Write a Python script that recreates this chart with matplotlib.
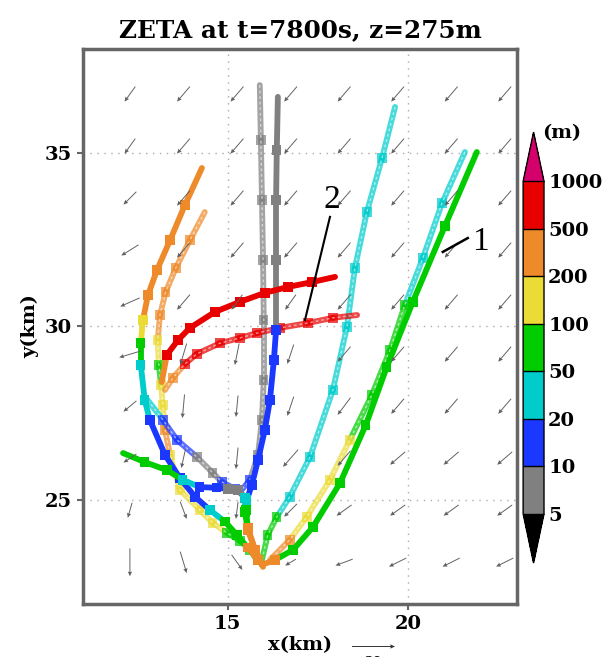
import numpy as np
import matplotlib
matplotlib.use("Agg")
import matplotlib.pyplot as plt
from matplotlib.collections import LineCollection
from matplotlib.colors import ListedColormap, BoundaryNorm

# height classes (m) and colours
LEVELS = [5, 10, 20, 50, 100, 200, 500, 1000]
LEVEL_COLORS = ["#808080", "#1a38ff", "#00cccc", "#00cc00", "#ebdb36", "#ee8a2a", "#e80000"]
UNDER_COLOR = "#000000"
OVER_COLOR = "#d4006c"

# wind grid (km) and components (m/s), rows from south to north
GX = [12.3, 13.78, 15.26, 16.74, 18.22, 19.7, 21.18, 22.66]
GY = [23.2, 24.7, 26.2, 27.7, 29.2, 30.7, 32.2, 33.7, 35.2, 36.7]
U = [
    [0, 3, 5, -5, -8, -8, -8, -8],
    [-2, 3, -1, -6, -7, -7, -7, -7],
    [-6, -2, -1, -7, -6, -7, -7, -7],
    [-6, -1, -1, -3, -6, -6, -6, -6],
    [-10, -3, -2, -3, -6, -6, -6, -6],
    [-9, -6, -5, -5, -6, -6, -6, -6],
    [-8, -6, -6, -6, -6, -6, -6, -6],
    [-6, -6, -6, -6, -6, -6, -6, -6],
    [-5, -6, -6, -6, -6, -6, -6, -6],
    [-5, -6, -6, -6, -6, -6, -6, -6],
]
V = [
    [-13, -10, -7, -3, -3, -4, -4, -4],
    [-7, -8, -8, -6, -5, -5, -5, -5],
    [-4, -9, -10, -8, -7, -6, -6, -6],
    [-5, -11, -10, -9, -8, -7, -7, -7],
    [-3, -10, -10, -9, -7, -7, -7, -7],
    [-4, -7, -7, -7, -7, -7, -7, -7],
    [-5, -7, -7, -7, -7, -7, -7, -7],
    [-6, -7, -7, -7, -7, -7, -7, -7],
    [-7, -7, -7, -7, -7, -7, -7, -7],
    [-7, -7, -7, -7, -7, -7, -7, -7],
]
REF_SPEED = 20

# trajectories: x (km), y (km), parcel height z (m)
T1_X = [21.89, 21.01, 20.12, 19.40, 18.82, 18.11, 17.36, 16.81, 16.31, 15.95]
T1_Y = [35.03, 32.90, 30.71, 28.83, 27.16, 25.49, 24.22, 23.56, 23.27, 23.13]
T1_Z = [60, 60, 60, 60, 60, 60, 70, 80, 250, 300]

T1B_X = [21.56, 20.93, 20.40, 19.90, 19.49, 18.99, 18.38, 17.83, 17.19, 16.72, 16.17]
T1B_Y = [35.03, 33.56, 31.98, 30.62, 29.32, 28.03, 26.73, 25.58, 24.51, 23.85, 23.27]
T1B_Z = [30, 30, 30, 60, 60, 60, 150, 150, 150, 300, 300]

TC_X = [19.63, 19.27, 18.85, 18.52, 18.30, 17.91, 17.28, 16.72, 16.36, 16.11, 15.95]
TC_Y = [36.33, 34.86, 33.30, 31.69, 29.99, 28.17, 26.24, 25.09, 24.51, 23.99, 23.27]
TC_Z = [30, 30, 30, 30, 30, 30, 30, 30, 70, 70, 250]

TG_X = [16.39, 16.36, 16.34, 16.34, 16.34, 16.28, 16.17, 16.03, 15.84, 15.67, 15.53, 15.48, 15.56, 15.76, 15.98]
TG_Y = [36.62, 35.09, 33.65, 31.92, 29.90, 29.03, 27.88, 27.02, 26.15, 25.43, 25.00, 24.65, 24.13, 23.56, 23.07]
TG_Z = [7, 7, 7, 7, 15, 15, 15, 15, 15, 15, 30, 70, 300, 300, 300]

TGB_X = [15.89, 15.92, 15.95, 15.98, 16.00, 16.00, 15.95, 15.84, 15.62, 15.34]
TGB_Y = [36.96, 35.38, 33.65, 31.92, 30.19, 28.46, 27.31, 26.30, 25.58, 25.23]
TGB_Z = [7, 7, 7, 7, 7, 7, 7, 7, 15, 15]

TA_X = [14.29, 13.82, 13.41, 13.05, 12.80, 12.66, 12.60, 12.60, 12.71, 12.85, 13.27, 13.68, 14.10, 14.51, 14.93, 15.26, 15.56, 15.84, 15.95]
TA_Y = [34.57, 33.50, 32.49, 31.63, 30.91, 30.19, 29.52, 28.89, 27.88, 27.31, 26.30, 25.63, 25.09, 24.71, 24.37, 23.99, 23.62, 23.27, 23.13]
TA_Z = [300, 300, 300, 300, 300, 150, 70, 30, 30, 15, 15, 15, 15, 30, 70, 70, 300, 300, 300]

TB_X = [14.37, 13.96, 13.57, 13.29, 13.13, 13.07, 13.10, 13.16, 13.21, 13.27, 13.41, 13.68, 14.23, 14.59, 14.98, 15.34, 15.62, 15.84]
TB_Y = [33.30, 32.49, 31.69, 31.00, 30.33, 29.61, 28.89, 28.31, 27.74, 27.02, 26.30, 25.29, 24.71, 24.34, 24.05, 23.82, 23.56, 23.21]
TB_Z = [300, 300, 300, 300, 300, 150, 70, 150, 150, 300, 150, 150, 150, 150, 70, 70, 70, 300]

TE_X = [12.79, 13.21, 13.60, 14.15, 14.59, 14.84, 15.20, 15.48]
TE_Y = [27.88, 27.31, 26.73, 26.24, 25.78, 25.52, 25.32, 25.09]
TE_Z = [30, 15, 15, 7, 7, 15, 15, 30]

TW_X = [12.11, 12.71, 13.32, 13.76, 14.23, 14.70, 15.01, 15.29, 15.48, 15.51, 15.56, 15.76, 15.95]
TW_Y = [26.35, 26.09, 25.86, 25.58, 25.37, 25.35, 25.32, 25.29, 25.06, 24.71, 24.19, 23.56, 23.13]
TW_Z = [70, 70, 70, 30, 15, 15, 7, 7, 30, 70, 300, 300, 300]

R2A_X = [13.18, 13.32, 13.63, 13.96, 14.65, 15.34, 16.03, 16.67, 17.33, 17.97]
R2A_Y = [28.40, 29.18, 29.61, 29.96, 30.42, 30.71, 30.97, 31.14, 31.28, 31.43]
R2A_Z = [300, 700, 700, 700, 700, 700, 700, 700, 700, 700]

R2B_X = [13.27, 13.49, 13.82, 14.15, 14.79, 15.34, 15.81, 16.45, 17.22, 17.91, 18.58]
R2B_Y = [28.17, 28.52, 28.92, 29.21, 29.52, 29.67, 29.81, 29.96, 30.10, 30.25, 30.33]
R2B_Z = [300, 300, 700, 700, 700, 700, 700, 700, 700, 700, 700]

SERIF = "DejaVu Serif"

cmap = ListedColormap(LEVEL_COLORS)
cmap.set_under(UNDER_COLOR)
cmap.set_over(OVER_COLOR)
norm = BoundaryNorm(LEVELS, cmap.N)


def draw_traj(ax, x, y, z, light=False):
    pts = np.column_stack([x, y])
    segs = np.stack([pts[:-1], pts[1:]], axis=1)
    alpha = 0.72 if light else 1.0
    lc = LineCollection(segs, cmap=cmap, norm=norm, linewidths=4.2,
                        capstyle="round", alpha=alpha, zorder=2 if light else 3)
    lc.set_array(np.asarray(z[:-1], dtype=float))
    ax.add_collection(lc)
    ax.scatter(x[1:-1], y[1:-1], c=z[1:-1], cmap=cmap, norm=norm, marker="s",
               s=46, alpha=alpha, linewidths=0, zorder=2 if light else 3)
    if light:
        ax.plot(x, y, color="white", lw=1.0, ls=(0, (2, 2)), alpha=0.55, zorder=2)


fig = plt.figure(figsize=(6.14, 6.57), dpi=100)
ax = fig.add_axes([0.135, 0.0807, 0.707, 0.8447])

for tx, ty, tz in [(T1B_X, T1B_Y, T1B_Z), (TC_X, TC_Y, TC_Z), (TGB_X, TGB_Y, TGB_Z),
                   (TB_X, TB_Y, TB_Z), (TE_X, TE_Y, TE_Z), (R2B_X, R2B_Y, R2B_Z)]:
    draw_traj(ax, tx, ty, tz, light=True)
for tx, ty, tz in [(T1_X, T1_Y, T1_Z), (TG_X, TG_Y, TG_Z), (TA_X, TA_Y, TA_Z),
                   (TW_X, TW_Y, TW_Z), (R2A_X, R2A_Y, R2A_Z)]:
    draw_traj(ax, tx, ty, tz)

gx, gy = np.meshgrid(GX, GY)
q = ax.quiver(gx, gy, np.array(U), np.array(V), pivot="middle", color="#606060",
              scale=46.5, scale_units="inches", width=0.0022, headwidth=4.5,
              headlength=5, headaxislength=4.5, zorder=4)
ax.quiverkey(q, 0.608, 0.0167, REF_SPEED, str(REF_SPEED), labelpos="S",
             coordinates="figure", labelsep=0.1, color="#333333",
             fontproperties={"family": SERIF, "weight": "bold", "size": 9})

# labels 1 and 2
ax.plot([21.64, 20.95], [32.55, 32.15], color="black", lw=1.8, zorder=5)
ax.text(21.98, 32.44, "1", fontsize=24, family="Liberation Serif", ha="center", va="center", zorder=5)
ax.plot([17.83, 17.14], [33.16, 30.19], color="black", lw=1.5, zorder=5)
ax.text(17.88, 33.65, "2", fontsize=24, family="Liberation Serif", ha="center", va="center", zorder=5)

ax.set_xlim(11, 23)
ax.set_ylim(22, 38)
ax.set_xticks([15, 20])
ax.set_yticks([25, 30, 35])
ax.grid(color="#aaaaaa", ls=(0, (1, 4)), lw=1.0)
for s in ax.spines.values():
    s.set_color("#666666")
    s.set_linewidth(2.5)
ax.tick_params(length=4, width=1.5, color="#666666", pad=4)
for lab in ax.get_xticklabels() + ax.get_yticklabels():
    lab.set_family(SERIF)
    lab.set_fontweight("bold")
    lab.set_fontsize(14)
ax.set_xlabel("x(km)", family=SERIF, fontweight="bold", fontsize=14, labelpad=2)
ax.set_ylabel("y(km)", family=SERIF, fontweight="bold", fontsize=14, labelpad=4)

fig.text(0.49, 0.954, "ZETA at t=7800s, z=275m", family=SERIF, fontweight="bold",
         fontsize=17.8, ha="center", va="center")

# colour bar
cax = fig.add_axes([0.852, 0.143, 0.034, 0.656])
cb = fig.colorbar(plt.cm.ScalarMappable(norm=norm, cmap=cmap), cax=cax,
                  extend="both", extendfrac=0.148, spacing="uniform",
                  ticks=LEVELS, drawedges=True)
cb.outline.set_linewidth(1.0)
cb.dividers.set_linewidth(1.0)
cax.tick_params(length=0, pad=3)
for lab in cax.get_yticklabels():
    lab.set_family(SERIF)
    lab.set_fontweight("bold")
    lab.set_fontsize(14)
fig.text(0.915, 0.797, "(m)", family=SERIF, fontweight="bold", fontsize=14,
         ha="center", va="center")

fig.savefig("out.png", dpi=100)
